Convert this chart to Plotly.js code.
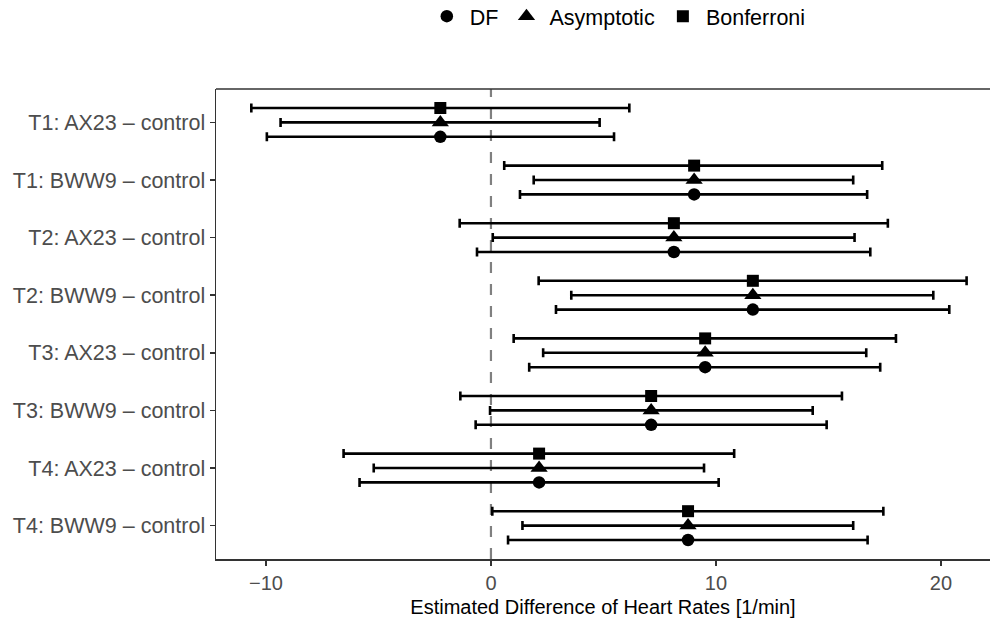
<!DOCTYPE html>
<html>
<head>
<meta charset="utf-8">
<script src="https://cdn.plot.ly/plotly-3.0.1.min.js"></script>
<style>
  html, body { margin: 0; padding: 0; background: #ffffff; overflow: hidden; }
  #chart { width: 990px; height: 621px; }
</style>
</head>
<body>
<div id="chart"></div>
<script>
// ---- data ----
const categories = [
  "T1: AX23 – control",
  "T1: BWW9 – control",
  "T2: AX23 – control",
  "T2: BWW9 – control",
  "T3: AX23 – control",
  "T3: BWW9 – control",
  "T4: AX23 – control",
  "T4: BWW9 – control"
];
const methods = ["DF", "Asymptotic", "Bonferroni"];
const estimate = [-2.25, 9.03, 8.13, 11.64, 9.52, 7.12, 2.14, 8.76];
const dfLower  = [-9.96, 1.29, -0.62, 2.89, 1.70, -0.68, -5.84, 0.76];
const dfUpper  = [5.47, 16.72, 16.86, 20.37, 17.30, 14.92, 10.12, 16.74];
const asyLower = [-9.35, 1.90, 0.08, 3.57, 2.32, -0.04, -5.21, 1.40];
const asyUpper = [4.83, 16.10, 16.16, 19.66, 16.68, 14.30, 9.47, 16.10];
const bonLower = [-10.65, 0.59, -1.39, 2.12, 1.01, -1.36, -6.55, 0.06];
const bonUpper = [6.15, 17.39, 17.64, 21.14, 18.00, 15.60, 10.81, 17.44];
const xTicks = [-10, 0, 10, 20];

// ---- build traces ----
const n = categories.length;
const basePos = categories.map((c, i) => n - i);       // top category highest
const dodge = { "DF": -0.25, "Asymptotic": 0, "Bonferroni": 0.25 };
const symbols = { "DF": "circle", "Asymptotic": "triangle-up", "Bonferroni": "square" };
const sizes = { "DF": 12.5, "Asymptotic": 15, "Bonferroni": 12 };
const bounds = {
  "DF": [dfLower, dfUpper],
  "Asymptotic": [asyLower, asyUpper],
  "Bonferroni": [bonLower, bonUpper]
};

const FONT = '"Liberation Sans", Arial, Helvetica, sans-serif';

const traces = methods.map(m => {
  const lo = bounds[m][0], hi = bounds[m][1];
  return {
    type: "scatter",
    mode: "markers",
    name: m,
    x: estimate,
    y: basePos.map(p => p + dodge[m]),
    error_x: {
      type: "data",
      symmetric: false,
      array: hi.map((h, i) => h - estimate[i]),
      arrayminus: lo.map((l, i) => estimate[i] - l),
      color: "#000000",
      thickness: 2.6,
      width: 4.5
    },
    marker: { symbol: symbols[m], size: sizes[m], color: "#000000", line: { width: 0 } },
    hoverinfo: "x+name"
  };
});

const layout = {
  width: 990,
  height: 621,
  margin: { l: 216, r: 0, t: 89, b: 62, autoexpand: false },
  paper_bgcolor: "#ffffff",
  plot_bgcolor: "#ffffff",
  font: { family: FONT, size: 20, color: "#000000" },
  showlegend: true,
  legend: {
    orientation: "h",
    x: 0.2685, xanchor: "left",
    y: 1.155, yanchor: "middle",
    font: { family: FONT, size: 21.5, color: "#000000" },
    bgcolor: "rgba(0,0,0,0)",
    itemwidth: 36,
    traceorder: "normal"
  },
  xaxis: {
    range: [-12.22, 22.18],
    tickvals: xTicks,
    ticktext: xTicks.map(v => (v < 0 ? "\u2212" + Math.abs(v) : String(v))),
    showgrid: false,
    zeroline: false,
    showline: true,
    linecolor: "#333333",
    linewidth: 1.5,
    ticks: "outside",
    ticklen: 5,
    tickwidth: 1.5,
    tickcolor: "#333333",
    tickfont: { family: FONT, size: 20, color: "#4d4d4d" },
    title: { text: "Estimated Difference of Heart Rates [1/min]", font: { family: FONT, size: 20, color: "#000000" }, standoff: 7 },
    automargin: false,
    fixedrange: true
  },
  yaxis: {
    range: [0.42, 8.58],
    tickvals: basePos,
    ticktext: categories,
    showgrid: false,
    zeroline: false,
    showline: true,
    linecolor: "#333333",
    linewidth: 1.5,
    ticks: "outside",
    ticklen: 5,
    tickwidth: 1.5,
    tickcolor: "#333333",
    tickfont: { family: FONT, size: 21.5, color: "#4d4d4d" },
    automargin: false,
    fixedrange: true
  },
  shapes: [
    {
      type: "line", xref: "x", yref: "paper",
      x0: 0, x1: 0, y0: 0, y1: 1,
      line: { color: "#808080", width: 2.2, dash: "11px,11px" },
      layer: "below"
    },
    {
      type: "line", xref: "paper", yref: "paper",
      x0: 0, x1: 1.01, y0: 1, y1: 1,
      line: { color: "#333333", width: 1.5 }
    }
  ]
};

Plotly.newPlot("chart", traces, layout, { displayModeBar: false, staticPlot: true });
</script>
</body>
</html>
